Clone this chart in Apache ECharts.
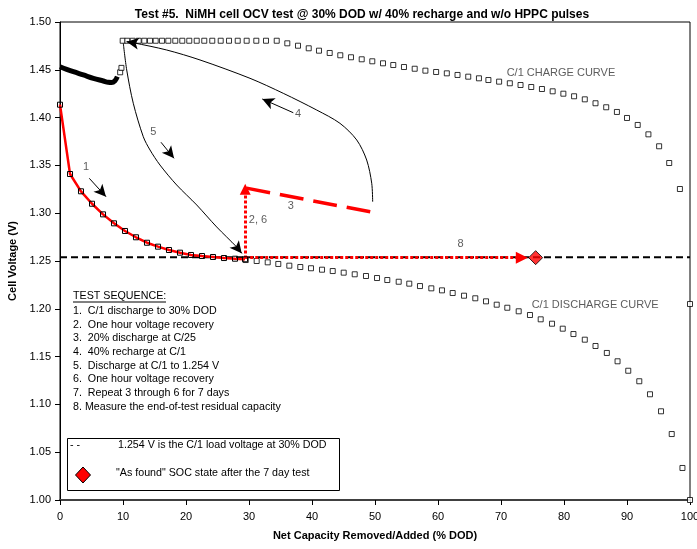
<!DOCTYPE html>
<html><head><meta charset="utf-8">
<script src="https://cdn.jsdelivr.net/npm/echarts@6/dist/echarts.min.js"></script>
<style>html,body{margin:0;padding:0;background:#fff}#c{width:697px;height:549px}</style>
</head><body><div id="c"></div>
<script>
const FONT = "'Liberation Sans', Arial, sans-serif";
const titleText = 'Test #5.  NiMH cell OCV test @ 30% DOD w/ 40% recharge and w/o HPPC pulses';
const xName = 'Net Capacity Removed/Added (% DOD)';
const yName = 'Cell Voltage (V)';

// C/1 charge curve (open squares)
const chargeCurve = [[9.95,1.4804],[10.68,1.4804],[11.54,1.4804],[12.49,1.4804],[13.38,1.4804],[14.29,1.4804],[15.19,1.4804],[16.19,1.4804],[17.19,1.4804],[18.30,1.4804],[19.41,1.4804],[20.52,1.4804],[21.70,1.4804],[22.90,1.4804],[24.17,1.4804],[25.51,1.4804],[26.83,1.4804],[28.21,1.4804],[29.63,1.4804],[31.16,1.4804],[32.70,1.4804],[34.40,1.4804],[36.08,1.4777],[37.78,1.4752],[39.48,1.4725],[41.11,1.4700],[42.81,1.4676],[44.49,1.4652],[46.19,1.4631],[47.89,1.4610],[49.57,1.4589],[51.27,1.4568],[52.9,1.4550],[54.6,1.4529],[56.3,1.4511],[58.0,1.4491],[59.7,1.4477],[61.4,1.4463],[63.1,1.4446],[64.8,1.4428],[66.5,1.4411],[68.0,1.4393],[69.7,1.4376],[71.4,1.4359],[73.1,1.4341],[74.8,1.4320],[76.5,1.4299],[78.2,1.4275],[79.9,1.4250],[81.6,1.4223],[83.3,1.4191],[85.0,1.4150],[86.7,1.4108],[88.4,1.4059],[90.0,1.3996],[91.7,1.3923],[93.4,1.3825],[95.1,1.3700],[96.7,1.3525],[98.4,1.3253],[100,1.2050]];

// C/1 discharge curve (open squares)
const dischargeCurve = [[29.48,1.2510],[31.22,1.2500],[32.97,1.2486],[34.65,1.2469],[36.40,1.2451],[38.14,1.2437],[39.84,1.2424],[41.59,1.2409],[43.29,1.2395],[45.03,1.2378],[46.78,1.2361],[48.57,1.2343],[50.32,1.2322],[51.95,1.2301],[53.76,1.2283],[55.44,1.2263],[57.14,1.2238],[58.94,1.2214],[60.63,1.2193],[62.33,1.2165],[64.13,1.2137],[65.92,1.2110],[67.62,1.2078],[69.32,1.2043],[71.0,1.2011],[72.81,1.1974],[74.6,1.1935],[76.3,1.1890],[78.1,1.1844],[79.8,1.1792],[81.5,1.1736],[83.3,1.1677],[85.0,1.1611],[86.8,1.1538],[88.5,1.1451],[90.2,1.1352],[91.95,1.1242],[93.65,1.1106],[95.4,1.0928],[97.1,1.0690],[98.8,1.0335],[100,1.0000]];

// Step 1: C/1 discharge to 30% DOD (red line with squares)
const step1Discharge = [[0,1.4135],[1.59,1.3410],[3.33,1.3229],[5.08,1.3099],[6.83,1.2988],[8.57,1.2894],[10.32,1.2814],[12.06,1.2748],[13.81,1.2691],[15.56,1.2650],[17.30,1.2615],[19.05,1.2587],[20.79,1.2563],[22.54,1.2552],[24.29,1.2542],[26.03,1.2531],[27.78,1.2524],[29.37,1.2518]];

// Voltage recovery band at top-left (dense markers)
const ocvBand = [[0,1.4532],[1.06,1.4505],[2.12,1.4480],[3.70,1.4446],[5.29,1.4411],[6.88,1.4383],[7.67,1.4369],[8.20,1.4367],[8.73,1.4386],[9.10,1.4428]];
const ocvSparse = [[9.55,1.4474],[9.75,1.4520]];

// Step 5: discharge at C/1 to 1.254 V (curve with arrow)
const step5Curve = [[10.05,1.4777],[10.59,1.4498],[11.63,1.4150],[13.22,1.3800],[14.29,1.3661],[15.87,1.3504],[18.52,1.3295],[21.70,1.3086],[24.87,1.2856],[28.05,1.2646],[28.84,1.2581]];
// Step 4: 40% recharge at C/1 (curve with arrow)
const step4Curve = [[49.63,1.3120],[49.48,1.3313],[48.68,1.3556],[47.10,1.3766],[44.44,1.3940],[40.75,1.4079],[35.44,1.4254],[30.16,1.4411],[22.22,1.4603],[16.94,1.4707],[11.63,1.4783],[10.59,1.4794]];

// Step 2,6 / 3 / 8 markers
const step26Arrow = [[29.4,1.2525],[29.4,1.3250]];
const step3Line = [[29.6,1.3262],[49.6,1.3010]];
const step8Arrow = [[29.4,1.2535],[73.3,1.2535]];
const refVoltage = 1.254;
const refLine = [[0,refVoltage],[100,refVoltage]];
const asFound = [[75.5,1.2535]];

// small label arrows
const labelArrows = [
  [[4.65,1.3365],[7.30,1.3173]],
  [[16.03,1.3742],[18.10,1.3574]],
  [[37.03,1.4051],[32.11,1.4195]]
];
// annotation labels [x, y, text, align]
const annotations = [
  [4.13,1.3483,'1','center'],
  [14.81,1.3846,'5','center'],
  [37.78,1.4035,'4','center'],
  [31.43,1.2929,'2, 6','center'],
  [36.62,1.3075,'3','center'],
  [63.6,1.2675,'8','center'],
  [70.9,1.4463,'C/1 CHARGE CURVE','left'],
  [74.87,1.2040,'C/1 DISCHARGE CURVE','left']
];

const seqTitle = 'TEST SEQUENCE:';
const seqLines = [
  '1.  C/1 discharge to 30% DOD',
  '2.  One hour voltage recovery',
  '3.  20% discharge at C/25',
  '4.  40% recharge at C/1',
  '5.  Discharge at C/1 to 1.254 V',
  '6.  One hour voltage recovery',
  '7.  Repeat 3 through 6 for 7 days',
  '8. Measure the end-of-test residual capacity'
];
const legendLines = ['1.254 V is the C/1 load voltage at 30% DOD', '"As found" SOC state after the 7 day test'];

const chart = echarts.init(document.getElementById('c'), null, {renderer:'canvas'});

const sq = {color:'#fff', borderColor:'#000', borderWidth:1};
function arrowPair(pair, opts){
  return [
    {coord: pair[0], symbol:'none'},
    Object.assign({coord: pair[1], symbol:'arrow'}, opts || {})
  ];
}
const n = step5Curve.length, m = step4Curve.length;
const TF = '10.7px ' + FONT;

const graphics = [];
graphics.push({type:'text', left:73, top:291, style:{text:seqTitle, font:TF, fill:'#000'}});
graphics.push({type:'line', shape:{x1:73, y1:302, x2:166, y2:302}, style:{stroke:'#000', lineWidth:1}});
seqLines.forEach((t,i)=>{
  graphics.push({type:'text', left:73, top:305.5 + i*13.7, style:{text:t, font:TF, fill:'#000'}});
});
graphics.push({type:'rect', shape:{x:67.5, y:438.5, width:272, height:52}, style:{fill:'#fff', stroke:'#000', lineWidth:1}, z:10});
graphics.push({type:'text', left:70, top:440, style:{text:'- -', font:TF, fill:'#000'}, z:11});
graphics.push({type:'text', left:118, top:440, style:{text:legendLines[0], font:TF, fill:'#000'}, z:11});
graphics.push({type:'text', left:116, top:468, style:{text:legendLines[1], font:TF, fill:'#000'}, z:11});
graphics.push({type:'polygon', shape:{points:[[83,467],[90.5,475],[83,483],[75.5,475]]}, style:{fill:'#ff0000', stroke:'#000', lineWidth:1}, z:11});

chart.setOption({
  animation:false,
  backgroundColor:'#fff',
  textStyle:{fontFamily:FONT},
  title:{text:titleText, left:357, top:4, textAlign:'center', textStyle:{fontSize:12, fontWeight:'bold', color:'#000', fontFamily:FONT}},
  grid:{left:60, right:7, top:22, bottom:49, outerBoundsMode:'none', show:true, borderColor:'#000', borderWidth:1, backgroundColor:'transparent'},
  xAxis:{type:'value', min:0, max:100, interval:10,
    name:xName, nameLocation:'middle', nameGap:30,
    nameTextStyle:{fontSize:11, fontWeight:'bold', color:'#000', fontFamily:FONT},
    axisLine:{show:true, onZero:false, lineStyle:{color:'#404040', width:2}},
    axisTick:{show:true, length:5, lineStyle:{color:'#000'}},
    axisLabel:{color:'#000', fontSize:11, margin:11, fontFamily:FONT},
    splitLine:{show:false}},
  yAxis:{type:'value', min:1.0, max:1.5, interval:0.05,
    name:yName, nameLocation:'middle', nameGap:38,
    nameTextStyle:{fontSize:11, fontWeight:'bold', color:'#000', fontFamily:FONT},
    axisLine:{show:true, lineStyle:{color:'#000', width:1}},
    axisTick:{show:true, length:5, lineStyle:{color:'#000'}},
    axisLabel:{color:'#000', fontSize:11, margin:9, fontFamily:FONT, formatter:v=>v.toFixed(2)},
    splitLine:{show:false}},
  graphic:graphics,
  series:[
    {name:'C/1 discharge', type:'scatter', data:dischargeCurve, symbol:'rect', symbolSize:5, itemStyle:sq, z:3, silent:true},
    {name:'C/1 charge', type:'scatter', data:chargeCurve, symbol:'rect', symbolSize:5, itemStyle:sq, z:3, silent:true},
    {name:'OCV band', type:'line', data:ocvBand, smooth:0.4, showSymbol:false, lineStyle:{color:'#000', width:5}, z:3, silent:true},
    {name:'OCV sparse', type:'scatter', data:ocvSparse, symbol:'rect', symbolSize:5, itemStyle:sq, z:3, silent:true},
    {name:'ref', type:'line', data:refLine, showSymbol:false, lineStyle:{color:'#000', width:2, type:[7,4]}, z:4, silent:true},
    {name:'Step 1', type:'line', data:step1Discharge, symbol:'rect', symbolSize:5, showSymbol:true,
      lineStyle:{color:'#ff0000', width:2.5}, itemStyle:{color:'rgba(255,255,255,0)', borderColor:'#000', borderWidth:1}, z:5, silent:true},
    {name:'Step 5', type:'line', data:step5Curve, smooth:0.3, showSymbol:false, lineStyle:{color:'#000', width:1}, z:5, silent:true,
      markLine:{silent:true, animation:false, label:{show:false}, lineStyle:{color:'#000', width:1, type:'solid'},
        data:[arrowPair([step5Curve[n-2], step5Curve[n-1]], {symbolSize:[9,12]})]}},
    {name:'Step 4', type:'line', data:step4Curve, smooth:0.3, showSymbol:false, lineStyle:{color:'#000', width:1}, z:5, silent:true,
      markLine:{silent:true, animation:false, label:{show:false}, lineStyle:{color:'#000', width:1, type:'solid'},
        data:[arrowPair([step4Curve[m-2], step4Curve[m-1]], {symbolSize:[9,12]})]}},
    {name:'Step 3', type:'line', data:step3Line, showSymbol:false, lineStyle:{color:'#ff0000', width:3.5, type:[24,10]}, z:6, silent:true},
    {name:'Arrows', type:'line', data:[], z:7, silent:true,
      markLine:{silent:true, animation:false, label:{show:false}, symbol:['none','arrow'],
        data:[
          arrowPair(labelArrows[0], {symbolSize:[9,12], lineStyle:{color:'#000', width:1, type:'solid'}}),
          arrowPair(labelArrows[1], {symbolSize:[9,12], lineStyle:{color:'#000', width:1, type:'solid'}}),
          arrowPair(labelArrows[2], {symbolSize:[9,12], lineStyle:{color:'#000', width:1, type:'solid'}}),
          [{coord:step26Arrow[0], symbol:'none', lineStyle:{color:'#ff0000', width:3, type:[3,2]}}, {coord:step26Arrow[1], symbol:'triangle', symbolSize:[11,11]}],
          [{coord:step8Arrow[0], symbol:'none', lineStyle:{color:'#ff0000', width:3, type:[3,2]}}, {coord:step8Arrow[1], symbol:'triangle', symbolSize:[12,12]}]
        ].map(p=>{ if(p[0].lineStyle){ p[1].itemStyle={color:'#ff0000'}; } else { p[1].itemStyle={color:'#000'}; } return p; })
      }},
    {name:'As found', type:'scatter', data:asFound, symbol:'diamond', symbolSize:14, itemStyle:{color:'#ff0000', borderColor:'#000', borderWidth:1}, z:8, silent:true},
    {name:'labels', type:'scatter', data:annotations.map(a=>({value:[a[0],a[1]], label:{show:true, position:'inside', formatter:a[2], align:a[3], color:'#333', fontSize:11, fontFamily:FONT}})),
      symbolSize:0, itemStyle:{color:'transparent'}, z:9, silent:true}
  ]
});
</script>
</body></html>
